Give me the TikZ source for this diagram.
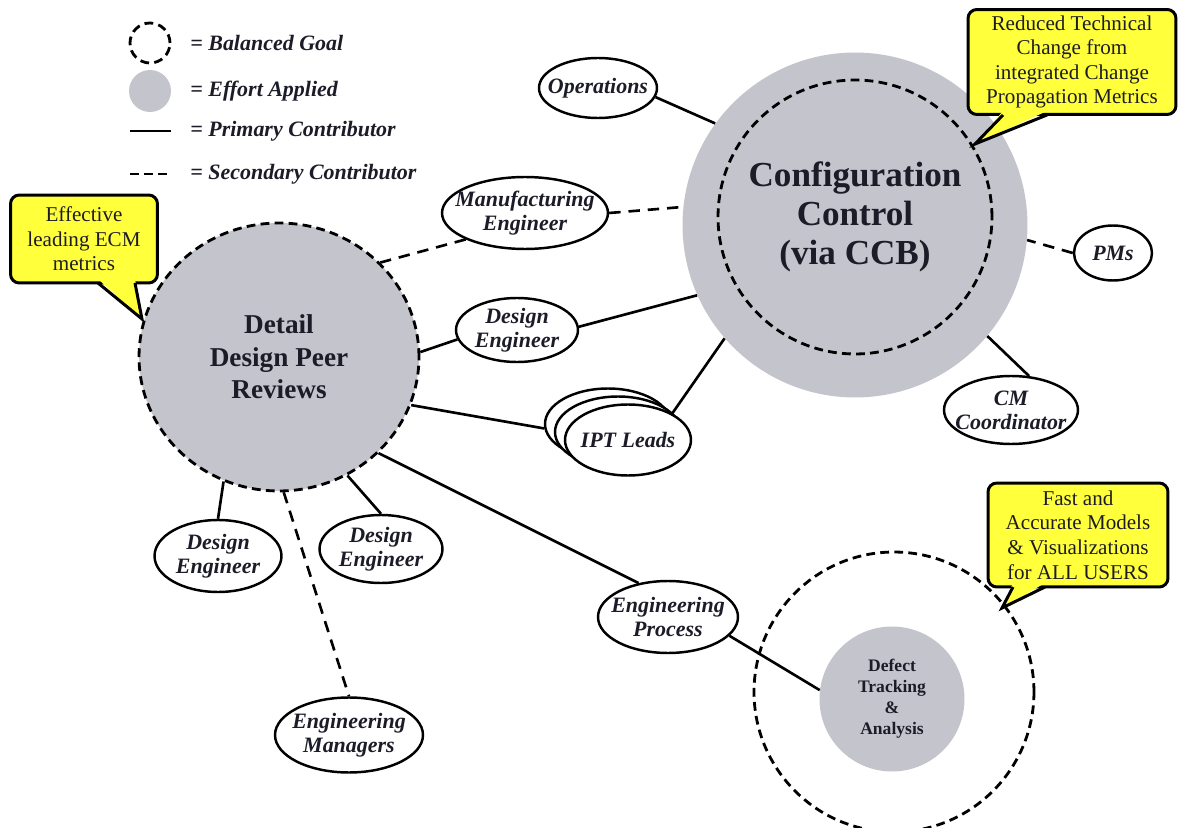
\documentclass[tikz,border=0pt]{standalone}
\usepackage{fontspec}
\setmainfont{Liberation Serif}
\usetikzlibrary{shapes.geometric}
\definecolor{effort}{RGB}{196,196,204}
\definecolor{callyellow}{RGB}{255,255,60}
\definecolor{ink}{RGB}{28,28,40}
\tikzset{
  ell/.style={ellipse, draw, line width=1.4pt, fill=white, inner sep=0pt},
  etext/.style={font=\bfseries\itshape\fontsize{12.5}{13.5}\selectfont, align=center, text=ink},
  goal/.style={draw, line width=1.6pt, dash pattern=on 5pt off 3pt},
  effortfill/.style={fill=effort},
  prim/.style={line width=1.5pt},
  sec/.style={line width=1.5pt, dash pattern=on 6.5pt off 4.5pt},
  callout/.style={rectangle, rounded corners=5pt, draw, line width=1.7pt, fill=callyellow, align=center,
    font=\fontsize{12}{14}\selectfont, inner sep=1pt, text=ink},
  tipline/.style={line width=1.7pt, line join=miter},
  legtext/.style={anchor=west, font=\bfseries\itshape\fontsize{12.5}{14}\selectfont, text=ink, inner sep=0pt},
}
\begin{document}
\begin{tikzpicture}[x=0.02cm,y=-0.02cm]
\useasboundingbox (0,0) rectangle (1178,828);

% ---- legend ----
\node[circle, goal, minimum size=0.8cm, inner sep=0pt] (lgoal) at (150,43) {};
\node[legtext] (lgoalt) at (190,43) {= Balanced Goal};
\node[circle, effortfill, minimum size=0.84cm, inner sep=0pt] (leff) at (150,91) {};
\node[legtext] (lefft) at (190,91) {= Effort Applied};
\coordinate (lp1) at (130,131);
\coordinate (lp2) at (171,131);
\draw[prim] (lp1) -- (lp2);
\node[legtext] (lprimt) at (190,131) {= Primary Contributor};
\coordinate (ls1) at (130,174);
\coordinate (ls2) at (171,174);
\draw[sec, dash pattern=on 5pt off 3pt] (ls1) -- (ls2);
\node[legtext] (lsect) at (190,174) {= Secondary Contributor};

% ---- big circles ----
\node[circle, effortfill, minimum size=6.9cm, inner sep=0pt] (cfg) at (855,225) {};
\node[circle, goal, minimum size=5.48cm, inner sep=0pt,
  label={[font=\bfseries\fontsize{20}{22}\selectfont, align=center, text=ink]center:Configuration\\Control\\(via CCB)}]
  (cfggoal) at (855,217) {};

\node[ellipse, goal, effortfill, minimum width=5.6cm, minimum height=5.36cm, inner sep=0pt,
  label={[font=\bfseries\fontsize{15.5}{18.5}\selectfont, align=center, text=ink]center:Detail\\Design Peer\\Reviews}]
  (ddpr) at (279,357) {};

\node[circle, goal, minimum size=5.6cm, inner sep=0pt] (dtgoal) at (894,692) {};
\node[circle, effortfill, minimum size=2.9cm, inner sep=0pt,
  label={[font=\bfseries\fontsize{10}{12}\selectfont, align=center, text=ink]center:Defect\\Tracking\\\&\\Analysis}]
  (dta) at (892,699) {};

% ---- ellipses ----
\node[ell, minimum width=2.36cm, minimum height=1.2cm, label={[etext]center:Operations}] (ops) at (598,88) {};
\node[ell, minimum width=3.32cm, minimum height=1.44cm, label={[etext]center:Manufacturing\\Engineer}] (mfg) at (525,213) {};
\node[ell, minimum width=2.44cm, minimum height=1.28cm, label={[etext]center:Design\\Engineer}] (dtop) at (517,330) {};
\node[ell, minimum width=2.52cm, minimum height=1.42cm] (ipt2) at (608,424) {};
\node[ell, minimum width=2.52cm, minimum height=1.42cm] (ipt1) at (618,432) {};
\node[ell, minimum width=2.52cm, minimum height=1.42cm, label={[etext]center:IPT Leads}] (ipt) at (628,440) {};
\node[ell, minimum width=1.56cm, minimum height=1.1cm, label={[etext]center:PMs}] (pms) at (1113,253) {};
\node[ell, minimum width=2.68cm, minimum height=1.36cm, label={[etext]center:CM\\Coordinator}] (cm) at (1011,410) {};
\node[ell, minimum width=2.54cm, minimum height=1.44cm, label={[etext]center:Design\\Engineer}] (dbl) at (218,556) {};
\node[ell, minimum width=2.46cm, minimum height=1.36cm, label={[etext]center:Design\\Engineer}] (dbm) at (381,549) {};
\node[ell, minimum width=2.96cm, minimum height=1.5cm, label={[etext]center:Engineering\\Managers}] (em) at (349,735) {};
\node[ell, minimum width=2.8cm, minimum height=1.44cm, label={[etext]center:Engineering\\Process}] (ep) at (668,617) {};

% ---- connectors ----
\draw[prim] (ops.-9) -- (cfg.144);
\draw[sec] (mfg.east) -- (cfg.174);
\draw[sec] (mfg.204) -- (ddpr.43);
\draw[prim] (dtop.189) -- (ddpr.2);
\draw[prim] (dtop.3) -- (cfg.204);
\draw[prim] (ddpr.-20) -- (ipt2.184);
\draw[prim] (ipt.31) -- (cfg.221);
\draw[sec] (pms.west) -- (cfg.-5);
\draw[prim] (cm.62) -- (cfg.-40);
\draw[prim] (ddpr.-114) -- (dbl.north);
\draw[prim] (ddpr.-60) -- (dbm.north);
\draw[sec] (ddpr.-88) -- (em.north);
\draw[prim] (ddpr.-44) -- (ep.131);
\draw[prim] (ep.-17) -- (dta.173);

% ---- callouts ----
\node[callout, minimum width=2.94cm, minimum height=1.76cm] (c1) at (84,239) {Effective\\leading ECM\\metrics};
\coordinate (c1a) at (98,283);
\coordinate (c1b) at (135,283);
\coordinate (c1ai) at (98,279);
\coordinate (c1bi) at (135,279);
\coordinate (c1tip) at (142,319);
\fill[callyellow] (c1ai) -- (c1tip) -- (c1bi) -- cycle;
\draw[tipline] (c1a) -- (c1tip) -- (c1b);

\node[callout, minimum width=4.16cm, minimum height=2.1cm] (c2) at (1072,62) {Reduced Technical\\Change from\\integrated Change\\Propagation Metrics};
\coordinate (c2a) at (1003,115);
\coordinate (c2b) at (1047,115);
\coordinate (c2ai) at (1003,111);
\coordinate (c2bi) at (1047,111);
\coordinate (c2tip) at (975,144);
\fill[callyellow] (c2ai) -- (c2tip) -- (c2bi) -- cycle;
\draw[tipline] (c2a) -- (c2tip) -- (c2b);

\node[callout, minimum width=3.6cm, minimum height=2.08cm] (c3) at (1078,535) {Fast and\\Accurate Models\\\& Visualizations\\for ALL USERS};
\coordinate (c3a) at (1013,587);
\coordinate (c3b) at (1045,587);
\coordinate (c3ai) at (1013,583);
\coordinate (c3bi) at (1045,583);
\coordinate (c3tip) at (1002,608);
\fill[callyellow] (c3ai) -- (c3tip) -- (c3bi) -- cycle;
\draw[tipline] (c3a) -- (c3tip) -- (c3b);
\end{tikzpicture}
\end{document}
